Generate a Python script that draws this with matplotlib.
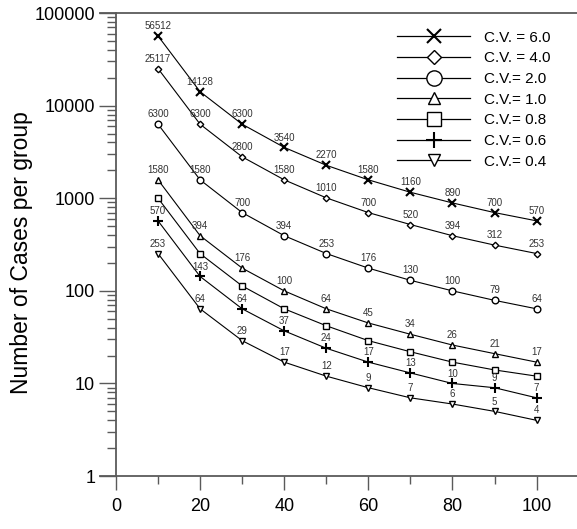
import numpy as np
import matplotlib.pyplot as plt
from matplotlib.lines import Line2D

plt.rcParams['font.family'] = ['Liberation Sans', 'DejaVu Sans']

# cases per group vs. x for each coefficient of variation
x = [10, 20, 30, 40, 50, 60, 70, 80, 90, 100]
cv_names = ['C.V. = 6.0', 'C.V. = 4.0', 'C.V.= 2.0', 'C.V.= 1.0',
            'C.V.= 0.8', 'C.V.= 0.6', 'C.V.= 0.4']
cv60 = [56512, 14128, 6300, 3540, 2270, 1580, 1160, 890, 700, 570]
cv40 = [25117, 6300, 2800, 1580, 1010, 700, 520, 394, 312, 253]
cv20 = [6300, 1580, 700, 394, 253, 176, 130, 100, 79, 64]
cv10 = [1580, 394, 176, 100, 64, 45, 34, 26, 21, 17]
cv08 = [1000, 252, 113, 64, 42, 29, 22, 17, 14, 12]
cv06 = [570, 143, 64, 37, 24, 17, 13, 10, 9, 7]
cv04 = [253, 64, 29, 17, 12, 9, 7, 6, 5, 4]
series = [cv60, cv40, cv20, cv10, cv08, cv06, cv04]
show_labels = [True, True, True, True, False, True, True]

# marker, size in plot, size in legend, edge width
styles = [('x', 5.5, 10, 1.5), ('D', 3.3, 7, 1.0), ('o', 4.8, 11, 1.0),
          ('^', 4.5, 9, 1.0), ('s', 4.6, 10, 1.0), ('+', 6.5, 11, 1.5),
          ('v', 4.5, 9, 1.0)]

fig = plt.figure(figsize=(5.77, 5.29), dpi=100)
ax = fig.add_axes([0.1733, 0.100, 0.8267, 0.8754])

axis_col = '#5a5a5a'
handles = []
for vals, name, lab, (m, ms, lms, mew) in zip(series, cv_names, show_labels, styles):
    ax.plot(x, vals, color='black', lw=0.8, marker=m, ms=ms, mew=mew,
            mfc='white', mec='black', zorder=3)
    if lab:
        for xi, v in zip(x, vals):
            ax.annotate(str(v), (xi, v), xytext=(0, 3.5), textcoords='offset points',
                        ha='center', va='bottom', fontsize=7, color='#333333')
    handles.append(Line2D([], [], color='black', lw=0.9, marker=m, ms=lms,
                          mew=mew, mfc='white', mec='black', label=name))

ax.set_yscale('log')
ax.set_ylim(1, 100000)
ax.set_xlim(-3.8, 109.6)
ax.set_xticks([0, 20, 40, 60, 80, 100])
ax.set_xticks([10, 30, 50, 70, 90], minor=True)
decades = [1, 10, 100, 1000, 10000, 100000]
ax.set_yticks(decades)
ax.set_yticklabels([str(d) for d in decades])
ax.set_yticks([d * k for d in decades[:-1] for k in range(2, 10)], minor=True)
ax.set_yticklabels([], minor=True)

ax.spines['left'].set_position(('data', 0))
ax.spines['right'].set_visible(False)
for s in ['left', 'bottom', 'top']:
    ax.spines[s].set_color(axis_col)
    ax.spines[s].set_linewidth(1.3)
ax.tick_params(which='both', width=1, color=axis_col, labelsize=13)
ax.tick_params(axis='x', which='major', length=10, pad=6)
ax.tick_params(axis='y', which='major', length=12, pad=3)
ax.tick_params(axis='x', which='minor', length=5.5)
ax.tick_params(axis='y', which='minor', length=6.5)

ax.set_ylabel('Number of Cases per group', fontsize=16.5)
ax.yaxis.set_label_coords(-0.14, 0.482)

leg = ax.legend(handles=handles, loc='upper left', bbox_to_anchor=(397 / 577, 1 - 30.5 / 529),
                bbox_transform=fig.transFigure, frameon=False, fontsize=11,
                handlelength=4.8, handletextpad=0.9, labelspacing=0.44,
                borderpad=0, borderaxespad=0)

fig.savefig('out.png', dpi=100)
